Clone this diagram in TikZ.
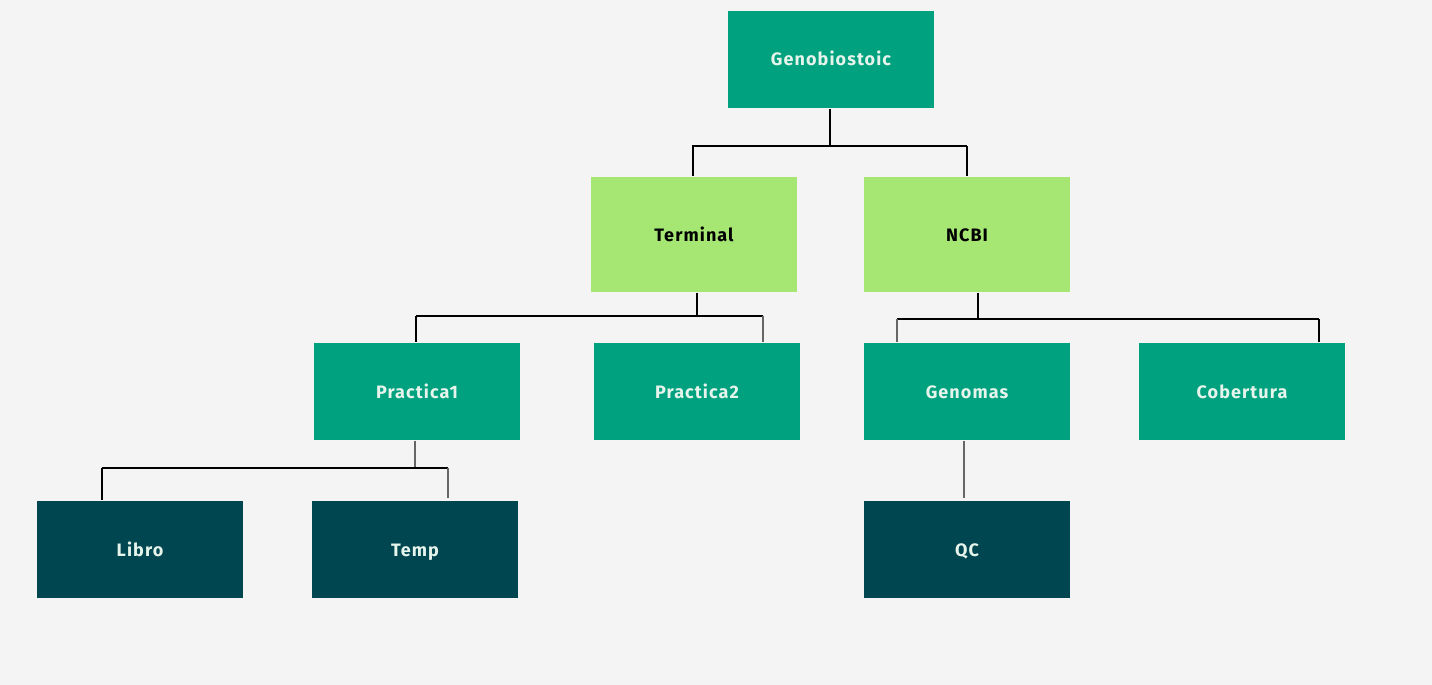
\documentclass[tikz,border=0pt]{standalone}
\usepackage{fontspec}
\setmainfont{Fira Sans}[LetterSpace=6]
\usepackage{tikz}
\definecolor{bgGrey}{HTML}{F4F4F4}
\definecolor{teal1}{HTML}{00A17F}
\definecolor{lime1}{HTML}{A6E673}
\definecolor{petrol1}{HTML}{004650}
\definecolor{paleText}{HTML}{E6F4EC}
\tikzset{every path/.style={line width=1.2pt}}
\tikzstyle{box}=[rectangle,inner sep=0pt,minimum width=206pt,minimum height=97pt,text height=14.5pt,text depth=1.5pt,font=\fontsize{18}{21}\selectfont\bfseries]
\tikzstyle{rootBox}=[box,fill=teal1,text=paleText]
\tikzstyle{midBox}=[box,fill=lime1,text=black,minimum height=115pt]
\tikzstyle{leafBox}=[box,fill=teal1,text=paleText]
\tikzstyle{deepBox}=[box,fill=petrol1,text=paleText]
\tikzstyle{link}=[draw=black,line width=1.2pt]
\tikzstyle{greyLink}=[draw=black!60,line width=1.5pt]

\begin{document}
\begin{tikzpicture}[x=1pt,y=-1pt]
		\fill[bgGrey] (0,0) rectangle (1432,685);
		\useasboundingbox (0,0) rectangle (1432,685);
		\node at (831,59.5) [rootBox] (gen) {Genobiostoic};
		\node at (694,234.5) [midBox] (term) {Terminal};
		\node at (967,234.5) [midBox] (ncbi) {NCBI};
		\node at (417,391.5) [leafBox] (prac1) {Practica1};
		\node at (697,391.5) [leafBox] (prac2) {Practica2};
		\node at (967,391.5) [leafBox] (genom) {Genomas};
		\node at (1242,391.5) [leafBox] (cober) {Cobertura};
		\node at (140,549.5) [deepBox] (libro) {Libro};
		\node at (415,549.5) [deepBox] (temp) {Temp};
		\node at (967,549.5) [deepBox] (qc) {QC};
		% junction points
		\coordinate (jRoot) at (830,146);
		\coordinate (jTerm) at (697,316);
		\coordinate (jNcbi) at (978,319);
		\coordinate (jPrac) at (415,468);
		% Genobiostoic
		\draw [link,line width=2pt] (gen.south -| jRoot) -- (jRoot);
		\draw [link] (692,146) -- (967,146);
		\draw [link,line width=2pt] (693,146) -- (term.north -| 693,0);
		\draw [link] (ncbi.north |- jRoot) -- (ncbi.north);
		% Terminal
		\draw [link] (term.south -| jTerm) -- (jTerm);
		\draw [link] (416,316) -- (763,316);
		\draw [link,line width=1.6pt] (416,316) -- (prac1.north -| 416,0);
		\draw [greyLink] (763,316) -- (prac2.north -| 763,0);
		% NCBI
		\draw [link] (ncbi.south -| jNcbi) -- (jNcbi);
		\draw [link] (897,319) -- (1319,319);
		\draw [greyLink] (897,319) -- (genom.north -| 897,0);
		\draw [link] (1319,319) -- (cober.north -| 1319,0);
		% Practica1
		\draw [greyLink] (prac1.south -| jPrac) -- (jPrac);
		\draw [link] (102,468) -- (448,468);
		\draw [link,line width=2pt] (102,468) -- (libro.north -| 102,0);
		\draw [greyLink] (448,468) -- (448,498);
		% Genomas
		\draw [greyLink] (genom.south -| 964,0) -- (964,498);
		\end{tikzpicture}
\end{document}
